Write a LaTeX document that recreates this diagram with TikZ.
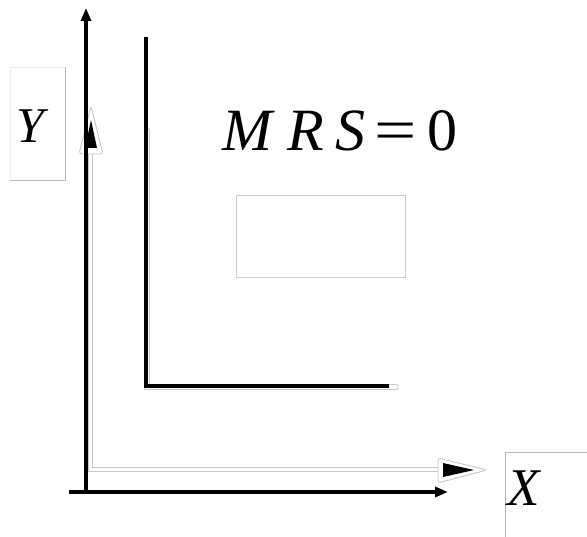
\documentclass[tikz,border=0pt]{standalone}
\usepackage{fontspec}
\setmainfont{Liberation Serif}
\newfontfamily\tnr{Liberation Serif}
\usetikzlibrary{arrows.meta}
\tikzset{
  axis/.style={line width=3.1pt,-{Triangle[length=13pt,width=10pt]}},
  curve/.style={line width=3.2pt},
  ghostout/.style={draw=black!22,line width=5.4pt},
  ghostin/.style={draw=white,line width=3.6pt},
  ghosthead/.style={draw=black!22,fill=white,line width=0.9pt,rounded corners=3pt},
  fillhead/.style={fill=black},
  labelbox/.style={draw=black!28,line width=0.9pt},
  lbl/.style={inner sep=0pt,font=\tnr}
}
\begin{document}
\begin{tikzpicture}[x=1pt,y=-1pt]
\useasboundingbox[fill=white] (0,0) rectangle (587,537);
% label boxes
\draw[draw=black!7,line width=0.8pt] (10,67) rectangle (65,180);
\draw[labelbox] (65,67) -- (65,180) -- (10,180);
\draw[labelbox] (505,537) -- (505,452) -- (587,452);
\draw[labelbox,draw=black!20] (236,195) rectangle (405,277);
% coordinates
\coordinate (O) at (86,494);
\coordinate (ytop) at (86,8);
\coordinate (xleft) at (69,492);
\coordinate (xtip) at (448,492);
\coordinate (gO) at (90.5,469.5);
\coordinate (gy) at (90.5,150);
\coordinate (gx) at (440,469.5);
\coordinate (Ltop) at (146,37);
\coordinate (Lcorner) at (146,386);
\coordinate (Lend) at (389,386);
\coordinate (lgtop) at (147,130);
\coordinate (lgcorner) at (147,387);
\coordinate (lgend) at (396,387);
% ghost L curve
\draw[ghostout,line cap=round] (lgtop) -- (lgcorner) -- (lgend);
\draw[ghostin,line cap=round] (lgtop) -- (lgcorner) -- (lgend);
% ghost arrows
\draw[ghostout] (gy) -- (gO) -- (gx);
\draw[ghostin] (gy) -- (gO) -- (gx);
\draw[ghosthead] (79,154) -- (91,106) -- (103,154) -- cycle;
\draw[ghosthead] (438,458) -- (487,470) -- (438,483) -- cycle;
\fill[fillhead] (85,148) -- (91,120) -- (97,148) -- cycle;
\fill[fillhead] (443,463) -- (474,470) -- (443,477) -- cycle;
% axes
\draw[axis] (O) -- (ytop);
\draw[axis] (xleft) -- (xtip);
% L curve
\draw[curve] (Ltop) -- (Lcorner) -- (Lend);
% labels
\node[lbl,anchor=base west] (ylab) at (16,143) {\fontsize{50}{52}\selectfont\itshape Y};
\node[lbl,anchor=base west] (xlab) at (507,506) {\fontsize{53}{55}\selectfont\itshape X};
\node[lbl,anchor=base west] (mrs) at (222,151) {\fontsize{60}{62}\selectfont\itshape M\hspace{15pt}R\hspace{12pt}S\upshape\hspace{9pt}\scalebox{1.25}[1]{=}\hspace{10pt}0};
\end{tikzpicture}
\end{document}
